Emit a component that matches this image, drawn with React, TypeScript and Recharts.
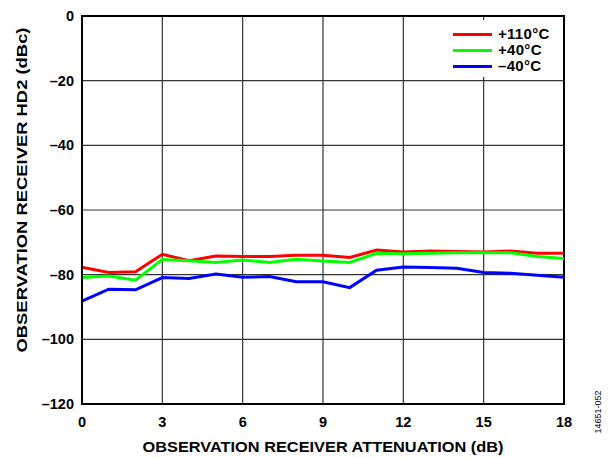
import React from 'react';
import { LineChart, Line, XAxis, YAxis, CartesianGrid, Legend, ReferenceArea } from 'recharts';

const attenuation = [0, 1, 2, 3, 4, 5, 6, 7, 8, 9, 10, 11, 12, 13, 14, 15, 16, 17, 18];
const hd2Plus110 = [-77.7, -79.3, -79.1, -73.7, -75.7, -74.2, -74.4, -74.4, -74.0, -74.0, -74.7, -72.4, -73.0, -72.7, -72.8, -73.0, -72.7, -73.4, -73.4];
const hd2Plus40 = [-80.9, -80.4, -81.7, -75.3, -75.7, -76.2, -75.5, -76.2, -75.2, -75.8, -76.2, -73.4, -73.5, -73.4, -73.2, -73.2, -73.2, -74.4, -75.0];
const hd2Minus40 = [-88.2, -84.5, -84.7, -80.9, -81.2, -79.8, -80.8, -80.6, -82.2, -82.2, -84.0, -78.6, -77.6, -77.8, -78.0, -79.3, -79.6, -80.2, -80.8];

const xTicks = [0, 3, 6, 9, 12, 15, 18];
const yTicks = [-120, -100, -80, -60, -40, -20, 0];

const seriesDefs = [
  { key: 'p110', name: '+110°C', color: '#ff0000', values: hd2Plus110 },
  { key: 'p40', name: '+40°C', color: '#00ff00', values: hd2Plus40 },
  { key: 'm40', name: '\u201340°C', color: '#0000ff', values: hd2Minus40 },
];

const data = attenuation.map((a, i) => {
  const row: Record<string, number> = { att: a };
  seriesDefs.forEach((s) => {
    row[s.key] = s.values[i];
  });
  return row;
});

const FONT = '"Liberation Sans", Arial, sans-serif';

const fmtY = (v: number) => (v < 0 ? '\u2013' + Math.abs(v) : String(v));

const LegendBox = () => (
  <div style={{ background: '#fff', width: 118, height: 57, position: 'relative', fontFamily: FONT }}>
    {seriesDefs.map((s, i) => (
      <div key={s.key} style={{ position: 'absolute', left: 8, top: 6 + i * 16, height: 16, display: 'flex', alignItems: 'center' }}>
        <div style={{ width: 39, height: 3, background: s.color }} />
        <span style={{ marginLeft: 6, fontWeight: 'bold', fontSize: 15, letterSpacing: 0.3, color: '#000', lineHeight: '16px' }}>{s.name}</span>
      </div>
    ))}
  </div>
);

const XTitle = (props: any) => {
  const vb = props.viewBox || { x: 82, y: 404, width: 482, height: 54 };
  return (
    <g>
      <text x={vb.x + vb.width / 2} y={vb.y + 48} textAnchor="middle" textLength={361} lengthAdjust="spacingAndGlyphs" fontFamily={FONT} fontWeight="bold" fontSize={15.5} fill="#000">
        OBSERVATION RECEIVER ATTENUATION (dB)
      </text>
      <text x={598} y={412} textAnchor="middle" dominantBaseline="central" transform={`rotate(-90, 598, 412)`} fontFamily={FONT} fontSize={9} fill="#000">
        14651-052
      </text>
    </g>
  );
};

const YTitle = () => (
  <text x={21} y={190} textAnchor="middle" dominantBaseline="central" textLength={325} lengthAdjust="spacingAndGlyphs" transform="rotate(-90, 21, 190)" fontFamily={FONT} fontWeight="bold" fontSize={15.5} fill="#000">
    OBSERVATION RECEIVER HD2 (dBc)
  </text>
);

export default function App() {
  return (
    <div style={{ position: 'absolute', left: 0, top: 0, width: 611, height: 458, background: '#fff' }}>
      <LineChart width={611} height={458} data={data} margin={{ top: 16, right: 47, left: 0, bottom: 0 }}>
        <CartesianGrid stroke="#333" strokeWidth={1.2} horizontal vertical />
        <XAxis
          dataKey="att"
          type="number"
          domain={[0, 18]}
          ticks={xTicks}
          height={54}
          tickSize={0}
          tickMargin={13}
          tickLine={false}
          axisLine={{ stroke: '#000', strokeWidth: 2 }}
          tick={{ fontFamily: FONT, fontWeight: 'bold', fontSize: 14.5, fill: '#000' }}
          interval={0}
          label={{ content: (p: any) => <XTitle {...p} /> }}
        />
        <YAxis
          type="number"
          domain={[-120, 0]}
          ticks={yTicks}
          width={82}
          tickSize={0}
          tickMargin={8}
          tickLine={false}
          axisLine={{ stroke: '#000', strokeWidth: 2 }}
          tickFormatter={fmtY}
          tick={{ fontFamily: FONT, fontWeight: 'bold', fontSize: 14.5, fill: '#000' }}
          interval={0}
          label={{ content: () => <YTitle /> }}
        />
        <ReferenceArea x1={0} x2={18} y1={-120} y2={0} fill="none" stroke="#000" strokeWidth={2} ifOverflow="visible" />
        {seriesDefs.map((s) => (
          <Line key={s.key} type="linear" dataKey={s.key} name={s.name} stroke={s.color} strokeWidth={3} dot={false} activeDot={false} isAnimationActive={false} />
        ))}
        <Legend
          layout="vertical"
          align="center"
          verticalAlign="middle"
          content={() => <LegendBox />}
          wrapperStyle={{ position: 'absolute', top: 20, left: 445, width: 118, height: 57, margin: 0, padding: 0 }}
        />
      </LineChart>
    </div>
  );
}
